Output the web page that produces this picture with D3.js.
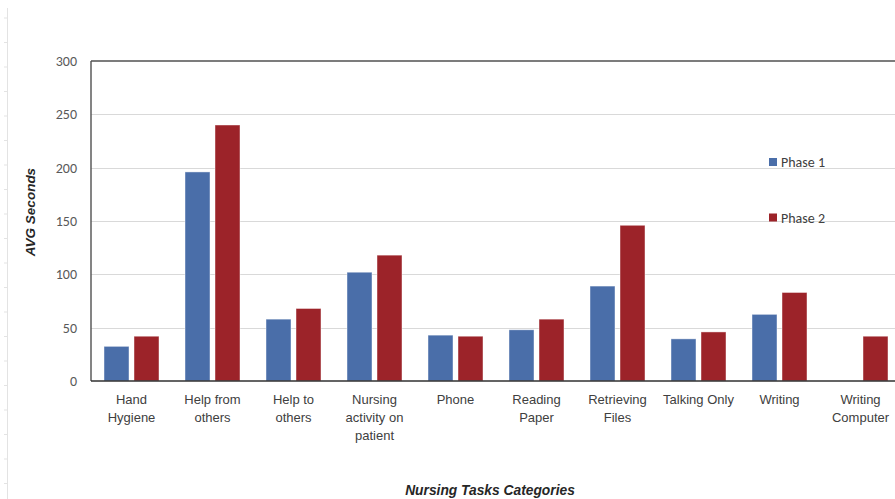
<!DOCTYPE html>
<html>
<head>
<meta charset="utf-8">
<script src="https://cdn.jsdelivr.net/npm/d3@7"></script>
<style>
  html, body { margin: 0; padding: 0; background: #fff; }
  svg { display: block; }
</style>
</head>
<body>
<svg id="chart" width="895" height="499"></svg>
<script>
const categories = [
  ["Hand", "Hygiene"],
  ["Help from", "others"],
  ["Help to", "others"],
  ["Nursing", "activity on", "patient"],
  ["Phone"],
  ["Reading", "Paper"],
  ["Retrieving", "Files"],
  ["Talking Only"],
  ["Writing"],
  ["Writing", "Computer"]
];
const seriesNames = ["Phase 1", "Phase 2"];
const phase1 = [32.5, 196, 58, 102, 43, 48, 89, 39.5, 62.5, null];
const phase2 = [42, 240, 68, 118, 42, 58, 146, 46, 83, 42];
const yTicks = [0, 50, 100, 150, 200, 250, 300];
const colors = ["#4A6EA9", "#9C2329"];

const svg = d3.select("#chart");
const plotLeft = 91, plotTop = 61, plotBottom = 381, plotRight = 901;
const font = "'Liberation Sans Narrow', 'Liberation Sans', Arial, sans-serif";
const numFont = "Calibri, 'Open Sans', sans-serif";

// faint sheet ruler at the far left
const ruler = svg.append("g");
ruler.append("line").attr("x1", 7.5).attr("x2", 7.5).attr("y1", 8).attr("y2", 499)
  .attr("stroke", "#e3e3e3").attr("stroke-width", 1);
d3.range(18, 499, 24.5).forEach(yy => {
  ruler.append("line").attr("x1", 4).attr("x2", 7).attr("y1", yy).attr("y2", yy)
    .attr("stroke", "#e3e3e3");
});

const keys = categories.map((c, i) => i);
const x0 = d3.scaleBand().domain(keys).range([plotLeft, plotRight]).padding(0);
const x1 = d3.scaleBand().domain(seriesNames).range([0, x0.bandwidth()])
  .paddingInner(0.1667).paddingOuter(0.4333);
const y = d3.scaleLinear().domain([0, 300]).range([plotBottom, plotTop]);

// gridlines
svg.append("g").selectAll("line").data(yTicks.filter(d => d > 0 && d < 300)).join("line")
  .attr("x1", plotLeft).attr("x2", plotRight)
  .attr("y1", d => Math.round(y(d)) + 0.5).attr("y2", d => Math.round(y(d)) + 0.5)
  .attr("stroke", "#d9d9d9").attr("stroke-width", 1.2);

// y axis labels
const yAxis = d3.axisLeft(y).tickValues(yTicks).tickSize(0).tickPadding(14);
const yg = svg.append("g").attr("transform", `translate(${plotLeft},0)`).call(yAxis);
yg.select(".domain").remove();
yg.selectAll("text").attr("font-family", numFont)
  .attr("font-size", 14).attr("fill", "#595959");

// bars
const data = keys.map(i => ({ i, vals: [phase1[i], phase2[i]] }));
const groups = svg.append("g").selectAll("g").data(data).join("g")
  .attr("transform", d => `translate(${x0(d.i)},0)`);
groups.selectAll("rect")
  .data(d => d.vals.map((v, s) => ({ v, s })).filter(e => e.v != null))
  .join("rect")
  .attr("x", e => x1(seriesNames[e.s]))
  .attr("width", x1.bandwidth())
  .attr("y", e => y(e.v))
  .attr("height", e => plotBottom - y(e.v))
  .attr("fill", e => colors[e.s])
  .attr("stroke", "rgba(255,255,255,0.55)")
  .attr("stroke-width", 0.8);

// plot frame: top & left & bottom
svg.append("line").attr("x1", plotLeft).attr("x2", plotRight).attr("y1", plotTop).attr("y2", plotTop)
  .attr("stroke", "#505050").attr("stroke-width", 1.6);
svg.append("line").attr("x1", plotLeft).attr("x2", plotLeft).attr("y1", plotTop).attr("y2", plotBottom)
  .attr("stroke", "#505050").attr("stroke-width", 1.4);
svg.append("line").attr("x1", plotLeft).attr("x2", plotRight).attr("y1", plotBottom).attr("y2", plotBottom)
  .attr("stroke", "#303030").attr("stroke-width", 1.6);

// category labels
const xAxis = d3.axisBottom(x0).tickSize(0).tickFormat(() => "");
const xg = svg.append("g").attr("transform", `translate(0,${plotBottom})`).call(xAxis);
xg.select(".domain").remove();
xg.selectAll(".tick").each(function(d) {
  const t = d3.select(this).append("text")
    .attr("text-anchor", "middle")
    .attr("font-family", font)
    .attr("font-size", 13)
    .attr("fill", "#404040");
  categories[d].forEach((line, k) => {
    t.append("tspan").attr("x", 0).attr("y", 23 + k * 18).text(line);
  });
});

// axis titles
svg.append("text")
  .attr("transform", "translate(35,212) rotate(-90)")
  .attr("text-anchor", "middle")
  .attr("font-family", font)
  .attr("font-size", 13.5).attr("font-weight", "bold").attr("font-style", "italic")
  .attr("fill", "#262626")
  .text("AVG Seconds");
svg.append("text")
  .attr("x", 490).attr("y", 495)
  .attr("text-anchor", "middle")
  .attr("font-family", font)
  .attr("font-size", 13.8).attr("font-weight", "bold").attr("font-style", "italic")
  .attr("fill", "#262626")
  .text("Nursing Tasks Categories");

// legend
const legY = [162, 217.5];
const leg = svg.append("g").selectAll("g").data(seriesNames).join("g")
  .attr("transform", (d, i) => `translate(769,${legY[i]})`);
leg.append("rect").attr("x", 0).attr("y", -4).attr("width", 8).attr("height", 8)
  .attr("fill", (d, i) => colors[i]);
leg.append("text").attr("x", 12).attr("y", 5)
  .attr("font-family", numFont)
  .attr("font-size", 14).attr("fill", "#404040")
  .text(d => d);
</script>
</body>
</html>
